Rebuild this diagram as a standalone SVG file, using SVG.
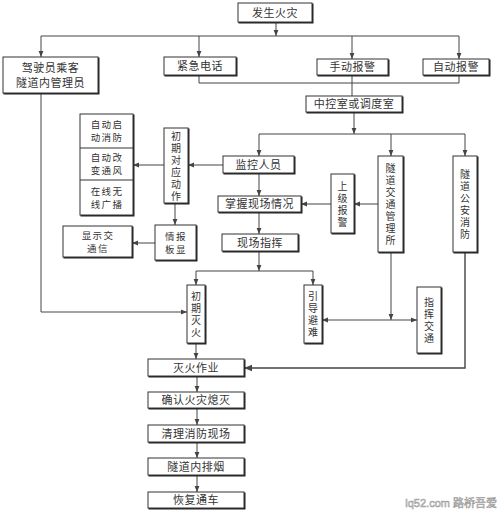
<svg xmlns="http://www.w3.org/2000/svg" width="500" height="513" viewBox="0 0 500 513">
<style>
.b{fill:#fff;stroke:#333;stroke-width:1;filter:url(#sh)}
.t{font-family:"Liberation Sans","Noto Sans CJK SC",sans-serif;font-size:11px;fill:#333;text-anchor:middle;letter-spacing:0.5px}
.s{font-size:9.5px;letter-spacing:1.4px}
.v{font-size:10px;letter-spacing:0}
.c{fill:none;stroke:#444;stroke-width:1}
.ar{marker-end:url(#a)}
.wm{font-family:"Liberation Sans","Noto Sans CJK SC",sans-serif;font-size:11px;fill:#fff;stroke:#999;stroke-width:0.6;text-anchor:end}
</style>
<defs>
<filter id="sh" x="-30%" y="-30%" width="160%" height="160%">
<feFlood flood-color="#222"/>
<feComposite in2="SourceAlpha" operator="in"/>
<feOffset dx="1" dy="1"/>
<feMerge><feMergeNode/><feMergeNode in="SourceGraphic"/></feMerge>
</filter>
<marker id="a" viewBox="0 0 10 10" refX="10" refY="5" markerWidth="6" markerHeight="6" orient="auto-start-reverse">
<path d="M0,1 L10,5 L0,9 z" fill="#444"/>
</marker>
</defs>
<rect width="500" height="513" fill="#fff"/>
<g id="connectors">
<path class="c ar" d="M276,22 V36"/>
<path class="c" d="M41,36 H459"/>
<path class="c ar" d="M41,36 V57"/>
<path class="c ar" d="M199,36 V57"/>
<path class="c ar" d="M352,36 V59"/>
<path class="c ar" d="M459,36 V59"/>
<path class="c" d="M199,75 V83 H459 V75"/>
<path class="c" d="M352,75 V96"/>
<path class="c ar" d="M354,112 V134"/>
<path class="c" d="M259,134 H465"/>
<path class="c ar" d="M259,134 V156"/>
<path class="c ar" d="M391,134 V156"/>
<path class="c ar" d="M465,134 V156"/>
<path class="c ar" d="M259,173 V196"/>
<path class="c ar" d="M259,212 V234"/>
<path class="c ar" d="M259,251 V271"/>
<path class="c" d="M196,271 H313"/>
<path class="c ar" d="M196,271 V285"/>
<path class="c ar" d="M313,271 V285"/>
<path class="c ar" d="M378,204 H354"/>
<path class="c ar" d="M331,204 H301"/>
<path class="c ar" d="M223,165 H188"/>
<path class="c ar" d="M164,165 H133"/>
<path class="c ar" d="M175,203 V225"/>
<path class="c ar" d="M155,243 H132"/>
<path class="c ar" d="M41,93 V312 H187"/>
<path class="c ar" d="M391,252 V320"/>
<path class="c ar" d="M370,320 H322"/>
<path class="c ar" d="M370,320 H417"/>
<path class="c ar" style="stroke-width:1.4" d="M465,252 V368 H244"/>
<path class="c ar" d="M196,343 V359"/>
<path class="c ar" d="M197,376 V392"/>
<path class="c ar" d="M197,408 V425"/>
<path class="c ar" d="M197,442 V458"/>
<path class="c ar" d="M197,475 V492"/>
</g>
<g id="n-fire"><rect class="b" x="238" y="3" width="74" height="19"/><text class="t" x="275" y="16.5">发生火灾</text></g>
<g id="n-driver"><rect class="b" x="3" y="57" width="95" height="36"/><text class="t" x="50.5" y="72">驾驶员乘客</text><text class="t" x="50.5" y="87">隧道内管理员</text></g>
<g id="n-phone"><rect class="b" x="164" y="57" width="72" height="18"/><text class="t" x="200" y="70">紧急电话</text></g>
<g id="n-manual"><rect class="b" x="317" y="59" width="71" height="16"/><text class="t" x="352.5" y="71">手动报警</text></g>
<g id="n-auto"><rect class="b" x="423" y="59" width="66" height="16"/><text class="t" x="456" y="71">自动报警</text></g>
<g id="n-control"><rect class="b" x="306" y="96" width="96" height="16"/><text class="t" x="354" y="108">中控室或调度室</text></g>
<g id="n-monitor"><rect class="b" x="223" y="156" width="71" height="17"/><text class="t" x="258.5" y="168.5">监控人员</text></g>
<g id="n-grasp"><rect class="b" x="218" y="196" width="83" height="16"/><text class="t" x="259.5" y="208">掌握现场情况</text></g>
<g id="n-command"><rect class="b" x="222" y="234" width="76" height="17"/><text class="t" x="260" y="246.5">现场指挥</text></g>
<g id="n-initial"><rect class="b" x="164" y="128" width="24" height="75"/><text class="t v" x="176" y="139.5">初<tspan x="176" dy="12">期</tspan><tspan x="176" dy="12">对</tspan><tspan x="176" dy="12">应</tspan><tspan x="176" dy="12">动</tspan><tspan x="176" dy="12">作</tspan></text></g>
<g id="n-actions">
<rect class="b" x="80" y="114" width="53" height="101"/>
<path class="c" style="stroke:#333" d="M80,148 H133 M80,180 H133"/>
<text class="t s" x="107" y="128">自动启</text><text class="t s" x="107" y="141">动消防</text>
<text class="t s" x="107" y="161">自动改</text><text class="t s" x="107" y="174">变通风</text>
<text class="t s" x="107" y="194.5">在线无</text><text class="t s" x="107" y="207.5">线广播</text>
</g>
<g id="n-board"><rect class="b" x="155" y="225" width="41" height="35"/><text class="t s" x="176" y="239.5">情报</text><text class="t s" x="176" y="252.5">板显</text></g>
<g id="n-show"><rect class="b" x="63" y="226" width="69" height="31"/><text class="t s" x="98" y="238.5">显示交</text><text class="t s" x="98" y="251.5">通信</text></g>
<g id="n-superior"><rect class="b" x="331" y="174" width="23" height="59"/><text class="t v" x="342.5" y="189.5">上<tspan x="342.5" dy="12">级</tspan><tspan x="342.5" dy="12">报</tspan><tspan x="342.5" dy="12">警</tspan></text></g>
<g id="n-traffic"><rect class="b" x="378" y="156" width="25" height="96"/><text class="t v" x="390.5" y="172">隧<tspan x="390.5" dy="12">道</tspan><tspan x="390.5" dy="12">交</tspan><tspan x="390.5" dy="12">通</tspan><tspan x="390.5" dy="12">管</tspan><tspan x="390.5" dy="12">理</tspan><tspan x="390.5" dy="12">所</tspan></text></g>
<g id="n-police"><rect class="b" x="453" y="156" width="24" height="96"/><text class="t v" x="465" y="178">隧<tspan x="465" dy="12">道</tspan><tspan x="465" dy="12">公</tspan><tspan x="465" dy="12">安</tspan><tspan x="465" dy="12">消</tspan><tspan x="465" dy="12">防</tspan></text></g>
<g id="n-initfire"><rect class="b" x="187" y="285" width="18" height="58"/><text class="t v" x="196" y="300">初<tspan x="196" dy="12">期</tspan><tspan x="196" dy="12">灭</tspan><tspan x="196" dy="12">火</tspan></text></g>
<g id="n-guide"><rect class="b" x="304" y="285" width="18" height="58"/><text class="t v" x="313" y="300">引<tspan x="313" dy="12">导</tspan><tspan x="313" dy="12">避</tspan><tspan x="313" dy="12">难</tspan></text></g>
<g id="n-direct"><rect class="b" x="417" y="287" width="24" height="66"/><text class="t v" x="429" y="306">指<tspan x="429" dy="12">挥</tspan><tspan x="429" dy="12">交</tspan><tspan x="429" dy="12">通</tspan></text></g>
<g id="n-extinguish"><rect class="b" x="148" y="359" width="96" height="17"/><text class="t" x="196" y="371.5">灭火作业</text></g>
<g id="n-confirm"><rect class="b" x="148" y="392" width="96" height="16"/><text class="t" x="196" y="404">确认火灾熄灭</text></g>
<g id="n-clean"><rect class="b" x="148" y="425" width="96" height="17"/><text class="t" x="196" y="437.5">清理消防现场</text></g>
<g id="n-smoke"><rect class="b" x="148" y="458" width="96" height="17"/><text class="t" x="196" y="470.5">隧道内排烟</text></g>
<g id="n-restore"><rect class="b" x="148" y="492" width="96" height="16"/><text class="t" x="196" y="504">恢复通车</text></g>
<text class="wm" x="497" y="507">lq52.com 路桥吾爱</text>
</svg>
